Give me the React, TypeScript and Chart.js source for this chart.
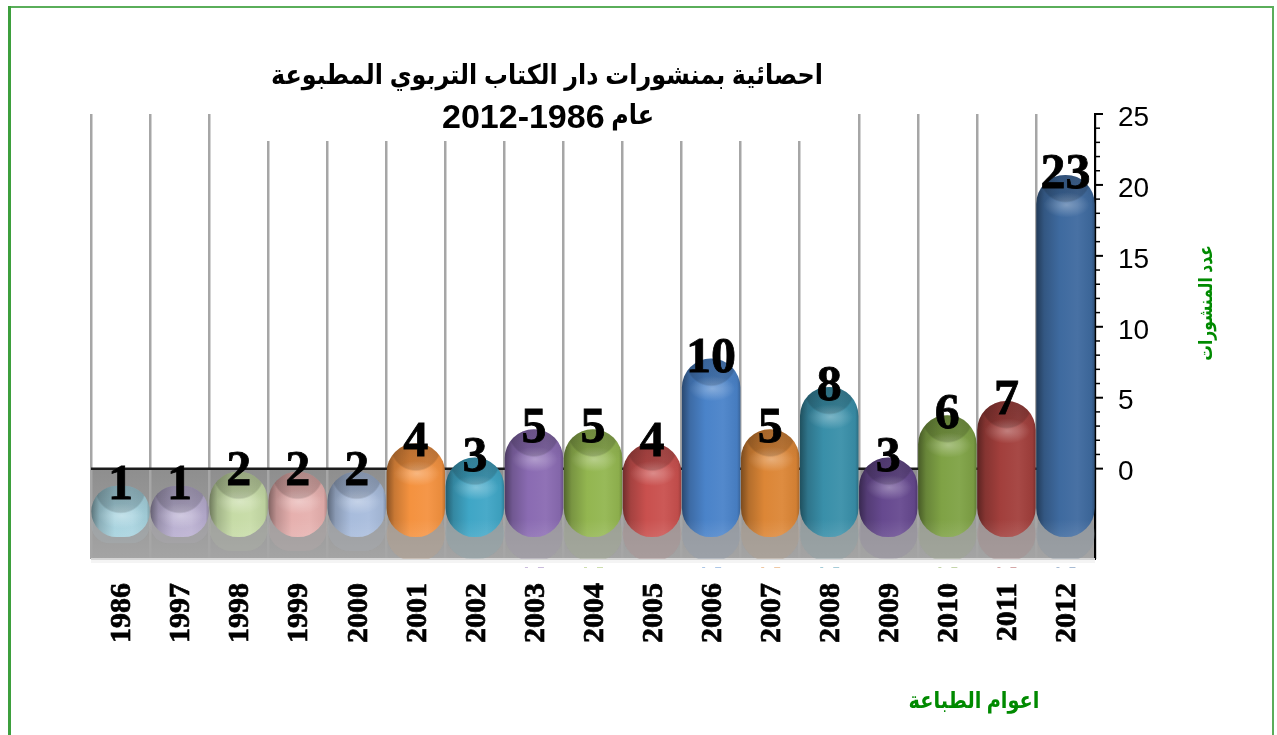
import React, { useEffect, useRef } from "react";
import { Chart, registerables } from "chart.js";

Chart.register(...registerables);

const years = ["1986","1997","1998","1999","2000","2001","2002","2003","2004","2005","2006","2007","2008","2009","2010","2011","2012"];
const counts = [1,1,2,2,2,4,3,5,5,4,10,5,8,3,6,7,23];
const barColors = ["#a6d2de","#b8aed0","#c6dba6","#e6b0ae","#a8bcdc","#f4923f","#3fa6c6","#8a6bb2","#93b650","#c9504e","#4a83c9","#dc8636","#398fa9","#66498f","#7fa245","#a23f3c","#3e6a9f"];
const yTicks = { min: -6.37, max: 25, step: 1, major: 5 };
const titleLine1 = "احصائية بمنشورات دار الكتاب التربوي المطبوعة";
const titleLine2Word = "عام";
const titleLine2Years = "2012-1986";
const xAxisTitle = "اعوام الطباعة";
const yAxisTitle = "عدد المنشورات";

const GREEN = "#008a00";
const ARABIC = '"Liberation Sans", "DejaVu Sans", sans-serif';

function shade(hex: string, f: number) {
  const n = parseInt(hex.slice(1), 16);
  const c = [(n >> 16) & 255, (n >> 8) & 255, n & 255].map((v) =>
    Math.round(f <= 1 ? v * f : v + (255 - v) * (f - 1))
  );
  return `rgb(${c[0]},${c[1]},${c[2]})`;
}
function alpha(hex: string, a: number) {
  const n = parseInt(hex.slice(1), 16);
  return `rgba(${(n >> 16) & 255},${(n >> 8) & 255},${n & 255},${a})`;
}

const RADIUS = 29;

function squeezed(ctx: any, text: string, x: number, y: number, sx: number) {
  ctx.save();
  ctx.translate(x, y);
  ctx.scale(sx, 1);
  ctx.fillText(text, 0, 0);
  ctx.restore();
}

const decor = {
  id: "decor",
  beforeDraw(chart: any) {
    const { ctx, chartArea: a, scales } = chart;
    const y0 = scales.y.getPixelForValue(0);
    ctx.save();
    // green frame: the bottom edge lies below the page
    ctx.fillStyle = "#5aae5a";
    ctx.fillRect(9, 6, 1265, 2);
    ctx.fillStyle = "#3d9f3d";
    ctx.fillRect(8, 6, 3, 729);
    ctx.fillStyle = "#5aae5a";
    ctx.fillRect(1272, 6, 2, 729);
    const g = ctx.createLinearGradient(0, y0, 0, a.bottom);
    g.addColorStop(0, "#8e8e8e");
    g.addColorStop(1, "#a4a4a4");
    ctx.fillStyle = g;
    ctx.fillRect(a.left, y0, a.right - a.left, a.bottom - y0);
    ctx.fillStyle = "#f4f4f4";
    ctx.fillRect(a.left, a.bottom + 1, a.right - a.left, 3);
    ctx.restore();
  },
  beforeDatasetsDraw(chart: any) {
    const { ctx, chartArea: a, scales } = chart;
    const y0 = scales.y.getPixelForValue(0);
    ctx.save();
    ctx.fillStyle = "#fff";
    ctx.fillRect(239, a.top - 4, 615, 141 - a.top + 4);
    ctx.strokeStyle = "#1c1c1c";
    ctx.lineWidth = 2.5;
    ctx.beginPath();
    ctx.moveTo(a.left, y0);
    ctx.lineTo(a.right, y0);
    ctx.stroke();
    ctx.fillStyle = "#d4d4d4";
    ctx.fillRect(a.left, a.bottom - 1, a.right - a.left, 2);
    ctx.strokeStyle = "#000";
    scales.y.ticks.forEach((t: any) => {
      const py = scales.y.getPixelForValue(t.value);
      const major = t.value % yTicks.major === 0;
      ctx.lineWidth = major ? 2 : 1.5;
      ctx.beginPath();
      ctx.moveTo(a.right, py);
      ctx.lineTo(a.right + (major ? 8 : 5), py);
      ctx.stroke();
    });
    const meta = chart.getDatasetMeta(0);
    ctx.beginPath();
    ctx.rect(a.left, y0, a.right - a.left, a.bottom - y0);
    ctx.clip();
    meta.data.forEach((bar: any, i: number) => {
      const h = bar.base - bar.y;
      const extra = Math.min(24, (h - 40) * 0.55);
      const w = bar.width;
      ctx.beginPath();
      ctx.roundRect(bar.x - w / 2, bar.base - 30, w, 30 + extra, RADIUS);
      ctx.fillStyle = "rgba(165,165,165,0.35)";
      ctx.fill();
      ctx.fillStyle = alpha(barColors[i], 0.1);
      ctx.fill();
    });
    ctx.restore();
  },
  afterDatasetsDraw(chart: any) {
    const { ctx, chartArea: a } = chart;
    const meta = chart.getDatasetMeta(0);
    ctx.save();
    meta.data.forEach((bar: any, i: number) => {
      const w = bar.width;
      const l = bar.x - w / 2;
      const top = bar.y;
      const bot = bar.base;
      ctx.save();
      ctx.beginPath();
      ctx.roundRect(l, top, w, bot - top, RADIUS);
      ctx.clip();
      const s = ctx.createLinearGradient(0, top, 0, top + 30);
      s.addColorStop(0, "rgba(0,0,0,0.1)");
      s.addColorStop(1, "rgba(0,0,0,0)");
      ctx.fillStyle = s;
      ctx.fillRect(l, top, w, 30);
      // glow that the cap's lower edge cuts into
      ctx.save();
      ctx.translate(bar.x + 1, top + 30);
      ctx.scale(1, 0.55);
      const hi = ctx.createRadialGradient(0, 0, 0, 0, 0, 23);
      hi.addColorStop(0, "rgba(255,255,255,0.32)");
      hi.addColorStop(1, "rgba(255,255,255,0)");
      ctx.fillStyle = hi;
      ctx.beginPath();
      ctx.arc(0, 0, 23, 0, Math.PI * 2);
      ctx.fill();
      ctx.restore();
      // dark cap
      ctx.save();
      ctx.translate(bar.x, top + 2);
      const cap = ctx.createRadialGradient(0, 0, 14, 0, 0, 26);
      cap.addColorStop(0, "rgba(0,0,0,0.16)");
      cap.addColorStop(0.85, "rgba(0,0,0,0.15)");
      cap.addColorStop(1, "rgba(0,0,0,0)");
      ctx.fillStyle = cap;
      ctx.beginPath();
      ctx.arc(0, 0, 26, 0, Math.PI * 2);
      ctx.fill();
      ctx.restore();
      const b = ctx.createLinearGradient(0, bot - 18, 0, bot);
      b.addColorStop(0, "rgba(255,255,255,0)");
      b.addColorStop(1, "rgba(255,255,255,0.1)");
      ctx.fillStyle = b;
      ctx.fillRect(l, bot - 18, w, 18);
      ctx.restore();
      if (i >= 7 && i !== 9 && i !== 13) {
        ctx.fillStyle = alpha(barColors[i], 0.45);
        ctx.fillRect(bar.x - 9, a.bottom + 8, 3, 1);
        ctx.fillRect(bar.x + 4, a.bottom + 8, 6, 1);
      }
    });
    ctx.fillStyle = "#000";
    ctx.strokeStyle = "#000";
    ctx.lineWidth = 0.8;
    ctx.font = 'bold 50px "Liberation Serif", serif';
    ctx.textAlign = "center";
    ctx.textBaseline = "alphabetic";
    meta.data.forEach((bar: any, i: number) => {
      const t = String(counts[i]);
      ctx.fillText(t, bar.x, bar.y + 13);
      ctx.strokeText(t, bar.x, bar.y + 13);
    });
    ctx.restore();
  },
  afterDraw(chart: any) {
    const { ctx } = chart;
    ctx.save();
    ctx.textBaseline = "alphabetic";
    ctx.fillStyle = "#000";
    ctx.direction = "rtl";
    ctx.textAlign = "center";
    ctx.font = `bold 27px ${ARABIC}`;
    squeezed(ctx, titleLine1, 547, 84, 0.885);
    ctx.textAlign = "right";
    squeezed(ctx, titleLine2Word, 654, 124, 0.885);
    ctx.direction = "ltr";
    ctx.textAlign = "left";
    ctx.font = 'bold 34px "Liberation Sans", sans-serif';
    ctx.fillText(titleLine2Years, 442, 128);

    ctx.fillStyle = GREEN;
    ctx.direction = "rtl";
    ctx.textAlign = "center";
    ctx.font = `bold 23px ${ARABIC}`;
    squeezed(ctx, xAxisTitle, 974, 708, 0.84);
    ctx.translate(1212, 303);
    ctx.rotate(-Math.PI / 2);
    ctx.font = `bold 19px ${ARABIC}`;
    squeezed(ctx, yAxisTitle, 0, 0, 0.82);
    ctx.restore();
  },
};

export default function App() {
  const ref = useRef<HTMLCanvasElement>(null);
  useEffect(() => {
    const chart = new Chart(ref.current!, {
      type: "bar",
      data: {
        labels: years,
        datasets: [
          {
            data: counts,
            yAxisID: "yBars",
            base: -2.63,
            borderRadius: RADIUS,
            borderSkipped: false,
            barPercentage: 0.99,
            categoryPercentage: 1,
            backgroundColor: (c: any) => {
              const ch = c.chart;
              if (!ch.chartArea || c.dataIndex === undefined) return barColors[0];
              const hex = barColors[c.dataIndex];
              const cx = ch.scales.x.getPixelForValue(c.dataIndex);
              const g = ch.ctx.createLinearGradient(cx - 29.5, 0, cx + 29.5, 0);
              g.addColorStop(0, shade(hex, 0.55));
              g.addColorStop(0.14, shade(hex, 0.82));
              g.addColorStop(0.4, hex);
              g.addColorStop(0.7, shade(hex, 1.05));
              g.addColorStop(0.94, shade(hex, 0.95));
              g.addColorStop(1, shade(hex, 0.75));
              return g;
            },
          },
        ],
      } as any,
      plugins: [decor],
      options: {
        animation: false,
        responsive: false,
        layout: { padding: { left: 91, top: 114, right: 0, bottom: 0 } },
        plugins: { legend: { display: false }, tooltip: { enabled: false } },
        scales: {
          x: {
            grid: { color: "#a6a6a6", lineWidth: 2.5, drawTicks: false },
            border: { display: false },
            ticks: {
              autoSkip: false,
              minRotation: 90,
              maxRotation: 90,
              padding: 24,
              labelOffset: 2,
              color: "#000",
              textStrokeColor: "#000",
              textStrokeWidth: 0.7,
              font: { family: '"Liberation Serif", serif', weight: "bold", size: 30 },
            },
            afterFit: (s: any) => {
              s.height = 176;
            },
          },
          y: {
            position: "right",
            min: yTicks.min,
            max: yTicks.max,
            grid: { display: false, drawTicks: false },
            border: { display: true, color: "#000", width: 2 },
            afterBuildTicks: (s: any) => {
              s.ticks = s.ticks.filter((t: any) => t.value >= 0);
            },
            ticks: {
              stepSize: yTicks.step,
              autoSkip: false,
              padding: 23,
              labelOffset: 4,
              color: "#000",
              font: { family: '"Liberation Sans", sans-serif', size: 28 },
              callback: (v: any) => (v >= 0 && v % yTicks.major === 0 ? String(v) : ""),
            },
            afterFit: (s: any) => {
              s.width = 182;
            },
          },
          yBars: { display: false, position: "right", min: -4.18, max: 27.31 },
        },
      } as any,
    });
    return () => chart.destroy();
  }, []);
  return (
    <canvas
      ref={ref}
      width={1277}
      height={735}
      style={{ position: "absolute", left: 0, top: 0, display: "block" }}
    />
  );
}
